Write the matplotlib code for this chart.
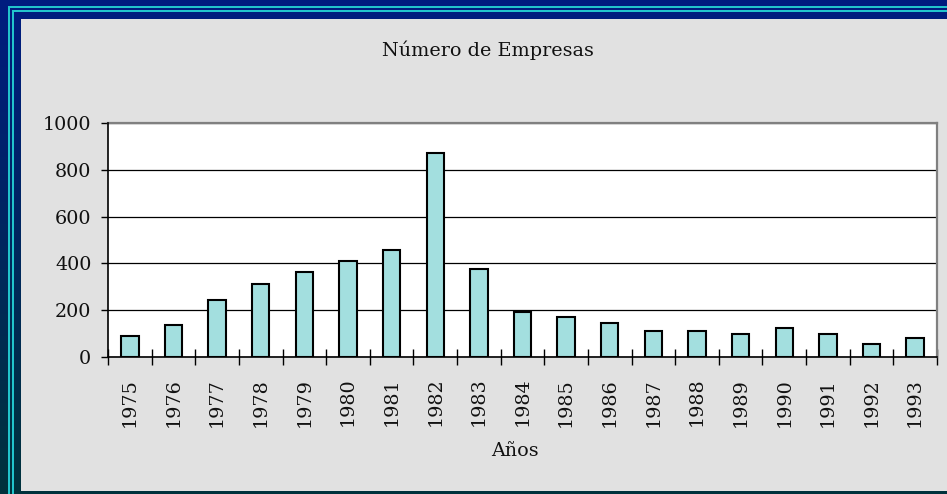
import matplotlib
matplotlib.use('Agg')
import matplotlib.pyplot as plt
from matplotlib.patches import Rectangle
from matplotlib.ticker import FixedLocator
import numpy as np

# data
years = ['1975', '1976', '1977', '1978', '1979', '1980', '1981', '1982', '1983', '1984',
         '1985', '1986', '1987', '1988', '1989', '1990', '1991', '1992', '1993']
empresas = [88, 137, 242, 314, 362, 412, 459, 873, 378, 192,
            169, 145, 112, 112, 97, 122, 97, 57, 80]
y_ticks = [0, 200, 400, 600, 800, 1000]

W, H = 947, 494
fig = plt.figure(figsize=(W / 100, H / 100), dpi=100)

# slide background: blue to dark teal gradient with cyan frame lines
bg = fig.add_axes([0, 0, 1, 1], zorder=-10)
bg.set_xlim(0, W)
bg.set_ylim(H, 0)
bg.axis('off')
c_top = np.array([0x00, 0x1c, 0x80]) / 255
c_bot = np.array([0x00, 0x32, 0x3c]) / 255
t = np.linspace(0, 1, 256)[:, None]
grad = (c_top * (1 - t) + c_bot * t)[:, None, :]
bg.imshow(grad, extent=[0, W, H, 0], aspect='auto', interpolation='bilinear')
cyan = '#22c4cc'
# outer and inner frame lines
for x0, y0 in ((8, 6), (12, 10)):
    bg.add_patch(Rectangle((x0, y0), W, 1.6, color=cyan, lw=0))
    bg.add_patch(Rectangle((x0, y0), 2, H, color=cyan, lw=0))
bg.add_patch(Rectangle((21, 19), W, 472, color='#e1e1e1', lw=0))

font = 'DejaVu Serif'
fs = 13.8

ax = fig.add_axes([108 / W, 1 - 357 / H, 829 / W, 234 / H])
ax.set_facecolor('white')
x = np.arange(len(years))
ax.bar(x, empresas, width=0.4, color='#a3dfdf', edgecolor='black', linewidth=1.5, zorder=3)
ax.set_xlim(-0.5, len(years) - 0.5)
ax.set_ylim(0, 1000)
ax.set_yticks(y_ticks)
ax.set_yticklabels([str(v) for v in y_ticks], fontsize=fs, family=font, color='#111111')
ax.grid(axis='y', color='black', linewidth=0.9, zorder=1)
ax.set_xticks(x)
ax.set_xticklabels(years, rotation=90, fontsize=fs, family=font, color='#111111')
ax.xaxis.set_minor_locator(FixedLocator(np.arange(-0.5, len(years), 1.0)))
ax.tick_params(axis='x', which='major', length=0, pad=15)
ax.tick_params(axis='x', which='minor', direction='inout', length=11, width=1, color='black')
ax.tick_params(axis='y', direction='out', length=5, width=1, pad=7)
for s in ('top', 'right'):
    ax.spines[s].set_color('#808080')
    ax.spines[s].set_linewidth(1.6)
for s in ('left', 'bottom'):
    ax.spines[s].set_color('black')
    ax.spines[s].set_linewidth(1.2)
    ax.spines[s].set_zorder(4)

fig.text(488 / W, 1 - 50 / H, 'Número de Empresas', ha='center', va='center',
         fontsize=fs, family=font, color='#111111')
fig.text(515 / W, 1 - 451 / H, 'Años', ha='center', va='center',
         fontsize=fs, family=font, color='#111111')

fig.savefig('out.png', dpi=100)
